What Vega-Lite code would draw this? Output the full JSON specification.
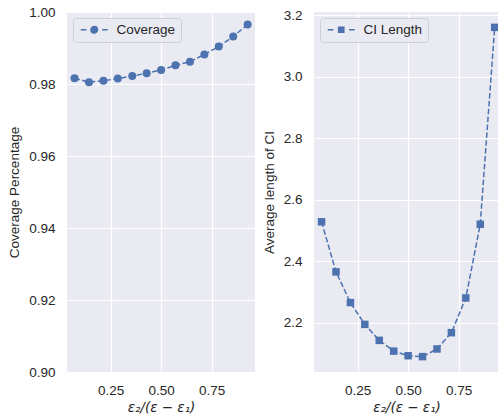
{
  "$schema": "https://vega.github.io/schema/vega-lite/v6.json",
  "padding": {"left": 7, "top": 5, "right": 0, "bottom": 0},
  "spacing": 7,
  "config": {
    "view": {"fill": "#EAEAF2", "stroke": null},
    "font": "Liberation Sans",
    "axis": {
      "domain": false,
      "ticks": false,
      "gridColor": "#FFFFFF",
      "gridWidth": 1.2,
      "labelFont": "Liberation Sans",
      "labelFontSize": 13.5,
      "labelColor": "#262626",
      "titleFont": "Liberation Sans",
      "titleFontSize": 13.5,
      "titleFontWeight": "normal",
      "titleColor": "#262626",
      "labelPadding": 12,
      "titlePadding": 7
    },
    "axisX": {"labelPadding": 11, "titlePadding": 4},
    "legend": {
      "orient": "top-left",
      "offset": 6,
      "padding": 5,
      "cornerRadius": 3,
      "fillColor": "#EAEAF2",
      "strokeColor": "#CFCFD6",
      "labelFont": "Liberation Sans",
      "labelFontSize": 13.5,
      "labelColor": "#262626",
      "labelOffset": 25,
      "symbolSize": 64,
      "symbolStrokeWidth": 1.5,
      "symbolStrokeColor": "#4C72B0",
      "symbolFillColor": "#4C72B0"
    }
  },
  "datasets": {
    "coverage": [
      {"ratio": 0.0714, "value": 0.9816, "series": "Coverage"},
      {"ratio": 0.1429, "value": 0.9805, "series": "Coverage"},
      {"ratio": 0.2143, "value": 0.9809, "series": "Coverage"},
      {"ratio": 0.2857, "value": 0.9815, "series": "Coverage"},
      {"ratio": 0.3571, "value": 0.9822, "series": "Coverage"},
      {"ratio": 0.4286, "value": 0.9830, "series": "Coverage"},
      {"ratio": 0.5000, "value": 0.9839, "series": "Coverage"},
      {"ratio": 0.5714, "value": 0.9852, "series": "Coverage"},
      {"ratio": 0.6429, "value": 0.9862, "series": "Coverage"},
      {"ratio": 0.7143, "value": 0.9882, "series": "Coverage"},
      {"ratio": 0.7857, "value": 0.9904, "series": "Coverage"},
      {"ratio": 0.8571, "value": 0.9932, "series": "Coverage"},
      {"ratio": 0.9286, "value": 0.9965, "series": "Coverage"}
    ],
    "ci": [
      {"ratio": 0.0714, "value": 2.528, "series": "CI Length"},
      {"ratio": 0.1429, "value": 2.365, "series": "CI Length"},
      {"ratio": 0.2143, "value": 2.265, "series": "CI Length"},
      {"ratio": 0.2857, "value": 2.194, "series": "CI Length"},
      {"ratio": 0.3571, "value": 2.142, "series": "CI Length"},
      {"ratio": 0.4286, "value": 2.107, "series": "CI Length"},
      {"ratio": 0.5000, "value": 2.092, "series": "CI Length"},
      {"ratio": 0.5714, "value": 2.089, "series": "CI Length"},
      {"ratio": 0.6429, "value": 2.114, "series": "CI Length"},
      {"ratio": 0.7143, "value": 2.167, "series": "CI Length"},
      {"ratio": 0.7857, "value": 2.280, "series": "CI Length"},
      {"ratio": 0.8571, "value": 2.520, "series": "CI Length"},
      {"ratio": 0.9286, "value": 3.161, "series": "CI Length"}
    ]
  },
  "resolve": {
    "scale": {"color": "independent"},
    "legend": {"color": "independent"}
  },
  "hconcat": [
    {
      "width": 188,
      "height": 360,
      "data": {"name": "coverage"},
      "encoding": {
        "x": {
          "field": "ratio",
          "type": "quantitative",
          "scale": {"domain": [0.034, 0.965], "nice": false, "zero": false},
          "axis": {"values": [0.25, 0.5, 0.75], "format": ".2f", "title": "ε₂/(ε − ε₁)", "titleFont": "DejaVu Sans", "titleFontStyle": "italic"}
        },
        "y": {
          "field": "value",
          "type": "quantitative",
          "scale": {"domain": [0.9, 1.0], "nice": false, "zero": false},
          "axis": {"values": [0.9, 0.92, 0.94, 0.96, 0.98, 1.0], "format": ".2f", "title": "Coverage Percentage"}
        }
      },
      "layer": [
        {
          "mark": {"type": "line", "color": "#4C72B0", "strokeWidth": 1.5, "strokeDash": [5.5, 2.4]}
        },
        {
          "mark": {"type": "point", "filled": true, "shape": "circle", "size": 64, "opacity": 1},
          "encoding": {
            "color": {
              "field": "series",
              "type": "nominal",
              "scale": {"range": ["#4C72B0"]},
              "legend": {
                "title": null,
                "symbolType": "M-1,0H0.42M4.33,0H5.75M3.195,0A0.82,0.82,0,1,1,1.555,0A0.82,0.82,0,1,1,3.195,0Z",
                "encode": {
                  "symbols": {
                    "update": {
                      "fill": {"value": "#4C72B0"},
                      "stroke": {"value": "#4C72B0"},
                      "strokeWidth": {"value": 1.5},
                      "strokeOpacity": {"value": 1},
                      "opacity": {"value": 1}
                    }
                  }
                }
              }
            }
          }
        }
      ]
    },
    {
      "width": 185,
      "height": 360,
      "data": {"name": "ci"},
      "encoding": {
        "x": {
          "field": "ratio",
          "type": "quantitative",
          "scale": {"domain": [0.034, 0.950], "nice": false, "zero": false},
          "axis": {"values": [0.25, 0.5, 0.75], "format": ".2f", "title": "ε₂/(ε − ε₁)", "titleFont": "DejaVu Sans", "titleFontStyle": "italic"}
        },
        "y": {
          "field": "value",
          "type": "quantitative",
          "scale": {"domain": [2.039, 3.211], "nice": false, "zero": false},
          "axis": {"values": [2.2, 2.4, 2.6, 2.8, 3.0, 3.2], "format": ".1f", "title": "Average length of CI"}
        }
      },
      "layer": [
        {
          "mark": {"type": "line", "color": "#4C72B0", "strokeWidth": 1.5, "strokeDash": [5.5, 2.4]}
        },
        {
          "mark": {"type": "point", "filled": true, "shape": "square", "size": 56, "opacity": 1},
          "encoding": {
            "color": {
              "field": "series",
              "type": "nominal",
              "scale": {"range": ["#4C72B0"]},
              "legend": {
                "title": null,
                "symbolType": "M-1,0H0.42M4.33,0H5.75M1.725,-0.65H3.025V0.65H1.725Z",
                "encode": {
                  "symbols": {
                    "update": {
                      "fill": {"value": "#4C72B0"},
                      "stroke": {"value": "#4C72B0"},
                      "strokeWidth": {"value": 1.5},
                      "strokeOpacity": {"value": 1},
                      "opacity": {"value": 1}
                    }
                  }
                }
              }
            }
          }
        }
      ]
    }
  ]
}
